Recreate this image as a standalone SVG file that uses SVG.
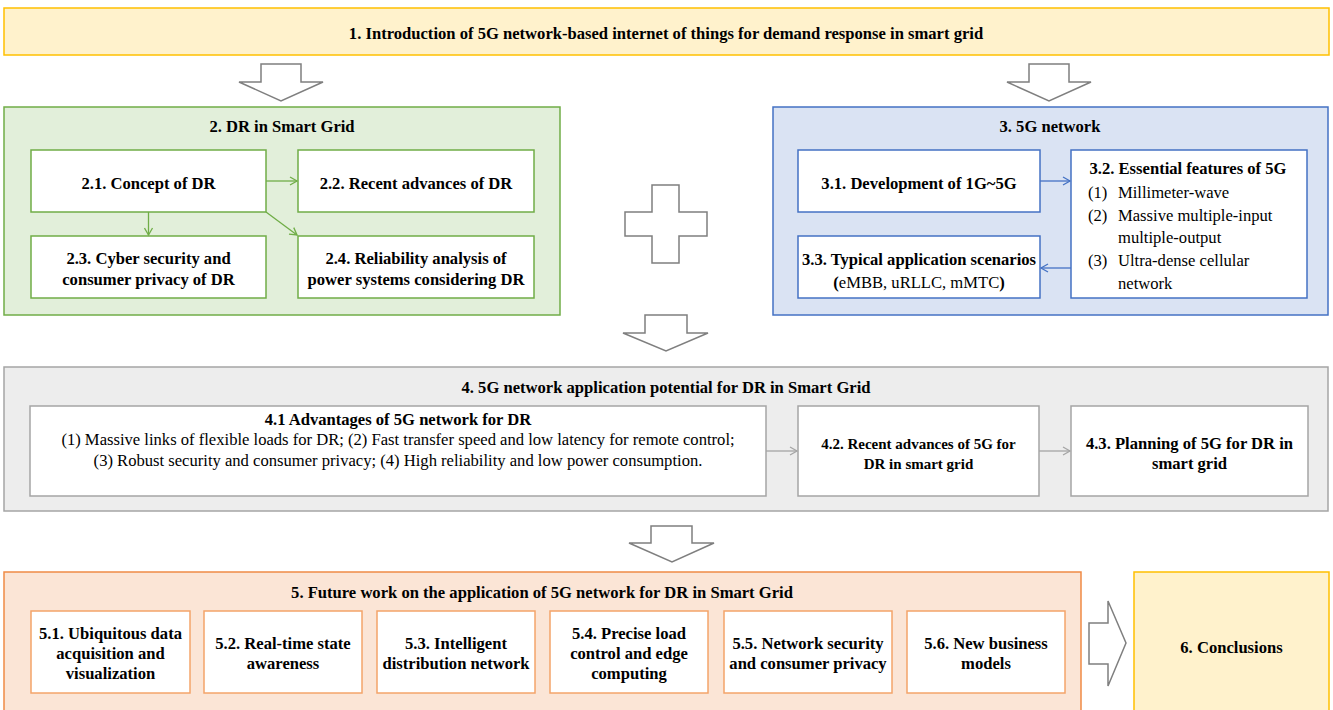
<svg xmlns="http://www.w3.org/2000/svg" width="1333" height="710" viewBox="0 0 1333 710">
<style>
text{font-family:"Liberation Serif","Times New Roman",serif;font-size:16.6px;fill:#000;text-anchor:middle}
.b{font-weight:bold}
.l{text-anchor:start}
.inner{fill:#fff;stroke-width:1.5}
.g{stroke:#70AD47}
.bl{stroke:#4472C4}
.gr{stroke:#A5A5A5}
.o{stroke:#F4A46A}
.bigarrow{fill:#fff;stroke:#7F7F7F;stroke-width:1.5;stroke-linejoin:miter}
</style>
<defs>
<marker id="mg" markerWidth="10" markerHeight="10" refX="8" refY="5" orient="auto" markerUnits="userSpaceOnUse"><path d="M1,1 L8,5 L1,9" fill="none" stroke="#70AD47" stroke-width="1.3"/></marker>
<marker id="mb" markerWidth="10" markerHeight="10" refX="8" refY="5" orient="auto" markerUnits="userSpaceOnUse"><path d="M1,1 L8,5 L1,9" fill="none" stroke="#4472C4" stroke-width="1.3"/></marker>
<marker id="mgr" markerWidth="10" markerHeight="10" refX="8" refY="5" orient="auto" markerUnits="userSpaceOnUse"><path d="M1,1 L8,5 L1,9" fill="none" stroke="#A5A5A5" stroke-width="1.3"/></marker>
</defs>

<g id="n1">
<rect x="4" y="8" width="1325" height="47" fill="#FFF2CC" stroke="#FFC000" stroke-width="1.5"/>
<text class="b" x="666" y="38.5">1. Introduction of 5G network-based internet of things for demand response in smart grid</text>
</g>

<g id="n2">
<rect x="4" y="107" width="556" height="208" fill="#E2EFDA" stroke="#70AD47" stroke-width="1.5"/>
<text class="b" x="282" y="132">2. DR in Smart Grid</text>
</g>
<g id="n2-1"><rect class="inner g" x="31" y="150" width="235" height="62"/><text class="b" x="148.5" y="188.5">2.1. Concept of DR</text></g>
<g id="n2-2"><rect class="inner g" x="298" y="150" width="236" height="62"/><text class="b" x="416" y="188.5">2.2. Recent advances of DR</text></g>
<g id="n2-3"><rect class="inner g" x="31" y="236" width="235" height="62"/><text class="b" x="148.5" y="263.5">2.3. Cyber security and</text><text class="b" x="148.5" y="284.5">consumer privacy of DR</text></g>
<g id="n2-4"><rect class="inner g" x="298" y="236" width="236" height="62"/><text class="b" x="416" y="263.5">2.4. Reliability analysis of</text><text class="b" x="416" y="284.5">power systems considering DR</text></g>

<g id="n3">
<rect x="773" y="107" width="555" height="208" fill="#DAE3F3" stroke="#4472C4" stroke-width="1.5"/>
<text class="b" x="1050" y="132">3. 5G network</text>
</g>
<g id="n3-1"><rect class="inner bl" x="798" y="150" width="242" height="62"/><text class="b" x="919" y="188.5">3.1. Development of 1G~5G</text></g>
<g id="n3-2"><rect class="inner bl" x="1071" y="150" width="236" height="148"/>
<text class="b" x="1188" y="173.5">3.2. Essential features of 5G</text>
<text class="l" x="1088" y="197.5">(1)</text><text class="l" x="1118" y="197.5">Millimeter-wave</text>
<text class="l" x="1088" y="220.5">(2)</text><text class="l" x="1118" y="220.5">Massive multiple-input</text>
<text class="l" x="1118" y="242.5">multiple-output</text>
<text class="l" x="1088" y="265.5">(3)</text><text class="l" x="1118" y="265.5">Ultra-dense cellular</text>
<text class="l" x="1118" y="288.5">network</text>
</g>
<g id="n3-3"><rect class="inner bl" x="798" y="236" width="242" height="62"/><text class="b" x="919" y="264.5">3.3. Typical application scenarios</text><text x="919" y="287.5"><tspan class="b">(</tspan>eMBB, uRLLC, mMTC<tspan class="b">)</tspan></text></g>

<g id="plus"><path class="bigarrow" d="M652,185 H679 V212 H707 V236 H679 V263 H652 V236 H625 V212 H652 Z"/></g>

<g id="n4">
<rect x="4" y="367" width="1324" height="144" fill="#EDEDED" stroke="#A5A5A5" stroke-width="1.5"/>
<text class="b" x="666" y="392.5">4. 5G network application potential for DR in Smart Grid</text>
</g>
<g id="n4-1"><rect class="inner gr" x="30" y="406" width="736" height="90"/>
<text class="b" x="398" y="424.5">4.1 Advantages of 5G network for DR</text>
<text x="398" y="445">(1) Massive links of flexible loads for DR; (2) Fast transfer speed and low latency for remote control;</text>
<text x="398" y="466">(3) Robust security and consumer privacy; (4) High reliability and low power consumption.</text>
</g>
<g id="n4-2"><rect class="inner gr" x="798" y="406" width="241" height="90"/><text class="b" x="918.5" y="448.5" style="font-size:15px">4.2. Recent advances of 5G for</text><text class="b" x="918.5" y="468.5" style="font-size:15px">DR in smart grid</text></g>
<g id="n4-3"><rect class="inner gr" x="1071" y="406" width="237" height="90"/><text class="b" x="1189.5" y="448.5">4.3. Planning of 5G for DR in</text><text class="b" x="1189.5" y="468.5">smart grid</text></g>

<g id="n5">
<rect x="4" y="572" width="1077" height="145" fill="#FBE5D6" stroke="#F08A45" stroke-width="1.5"/>
<text class="b" x="542" y="597.5">5. Future work on the application of 5G network for DR in Smart Grid</text>
</g>
<g id="n5-1"><rect class="inner o" x="31" y="611" width="159" height="82"/><text class="b" x="110.5" y="638.5">5.1. Ubiquitous data</text><text class="b" x="110.5" y="658.5">acquisition and</text><text class="b" x="110.5" y="678.5">visualization</text></g>
<g id="n5-2"><rect class="inner o" x="204" y="611" width="158" height="82"/><text class="b" x="283" y="648.5">5.2. Real-time state</text><text class="b" x="283" y="668.5">awareness</text></g>
<g id="n5-3"><rect class="inner o" x="377" y="611" width="158" height="82"/><text class="b" x="456" y="648.5">5.3. Intelligent</text><text class="b" x="456" y="668.5">distribution network</text></g>
<g id="n5-4"><rect class="inner o" x="550" y="611" width="158" height="82"/><text class="b" x="629" y="638.5">5.4. Precise load</text><text class="b" x="629" y="658.5">control and edge</text><text class="b" x="629" y="678.5">computing</text></g>
<g id="n5-5"><rect class="inner o" x="724" y="611" width="168" height="82"/><text class="b" x="808" y="648.5">5.5. Network security</text><text class="b" x="808" y="668.5">and consumer privacy</text></g>
<g id="n5-6"><rect class="inner o" x="907" y="611" width="158" height="82"/><text class="b" x="986" y="648.5">5.6. New business</text><text class="b" x="986" y="668.5">models</text></g>

<g id="n6">
<rect x="1134" y="572" width="195" height="145" fill="#FFF2CC" stroke="#FFC000" stroke-width="1.5"/>
<text class="b" x="1231.5" y="652.5">6. Conclusions</text>
</g>

<g id="connectors">
<path class="bigarrow" d="M261,64 H301 V82 H323 L281,101 L239,82 H261 Z"/>
<path class="bigarrow" d="M1029,64 H1069 V82 H1091 L1049,101 L1007,82 H1029 Z"/>
<path class="bigarrow" d="M645,315 H687 V333 H708 L666,351 L623,333 H645 Z"/>
<path class="bigarrow" d="M651,526 H692 V543 H714 L672,562 L629,543 H651 Z"/>
<path class="bigarrow" d="M1089,623 H1108 V601 L1126,643 L1108,686 V664 H1089 Z"/>
<line x1="266" y1="181" x2="297" y2="181" stroke="#70AD47" stroke-width="1.3" marker-end="url(#mg)"/>
<line x1="148.5" y1="212" x2="148.5" y2="235" stroke="#70AD47" stroke-width="1.3" marker-end="url(#mg)"/>
<line x1="266" y1="212" x2="297" y2="235" stroke="#70AD47" stroke-width="1.3" marker-end="url(#mg)"/>
<line x1="1040" y1="181" x2="1070" y2="181" stroke="#4472C4" stroke-width="1.3" marker-end="url(#mb)"/>
<line x1="1071" y1="268" x2="1041" y2="268" stroke="#4472C4" stroke-width="1.3" marker-end="url(#mb)"/>
<line x1="766" y1="451" x2="797" y2="451" stroke="#A5A5A5" stroke-width="1.3" marker-end="url(#mgr)"/>
<line x1="1039" y1="451" x2="1070" y2="451" stroke="#A5A5A5" stroke-width="1.3" marker-end="url(#mgr)"/>
</g>
</svg>
